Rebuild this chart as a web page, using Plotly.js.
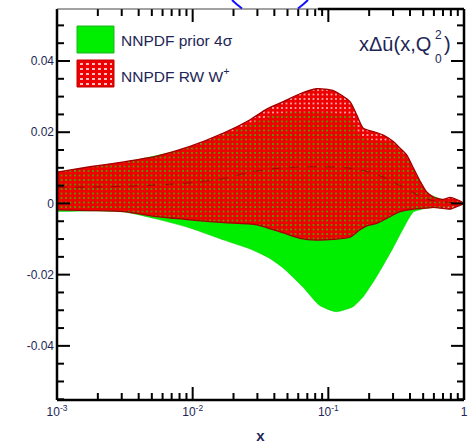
<!DOCTYPE html>
<html><head><meta charset="utf-8">
<script src="https://cdn.plot.ly/plotly-3.0.1.min.js"></script>
<style>html,body{margin:0;padding:0;background:#fff}#chart{width:472px;height:448px}</style>
</head><body><div id="chart"></div>
<script>
// ---- data ----
const priorUpX = [0.001, 0.00312, 0.00955, 0.017, 0.0265, 0.0351, 0.0466, 0.0618, 0.0821, 0.1088, 0.1444, 0.1618, 0.181, 0.2541, 0.3013, 0.3377, 0.378, 0.4229, 0.474, 0.5309, 0.703, 1.0];
const priorUpY = [0.0086, 0.0115, 0.0157, 0.0192, 0.0224, 0.0242, 0.0254, 0.0256, 0.0256, 0.0254, 0.0244, 0.0205, 0.0182, 0.0174, 0.0168, 0.0150, 0.0130, 0.0096, 0.0060, 0.0030, 0.0010, 0];
const priorLoX = [0.001, 0.00175, 0.00312, 0.00546, 0.00955, 0.017, 0.0265, 0.0365, 0.0464, 0.065, 0.0853, 0.1138, 0.152, 0.18, 0.224, 0.30, 0.378, 0.4229, 0.474, 0.5309, 0.75, 1.0];
const priorLoY = [-0.0023, -0.0021, -0.0024, -0.0044, -0.0069, -0.0103, -0.0128, -0.0153, -0.0181, -0.0235, -0.0285, -0.0304, -0.0290, -0.0263, -0.0209, -0.0125, -0.0053, -0.0024, -0.0018, -0.0013, -0.0010, 0];

const rwUpX = [0.001, 0.00175, 0.00312, 0.00546, 0.00955, 0.017, 0.0265, 0.0351, 0.0466, 0.0618, 0.0821, 0.1088, 0.1444, 0.1618, 0.181, 0.2145, 0.2541, 0.3013, 0.3377, 0.378, 0.4229, 0.474, 0.5309, 0.594, 0.703, 0.788, 0.883, 1.0];
const rwUpY = [0.0088, 0.0103, 0.0117, 0.0133, 0.0160, 0.0198, 0.0235, 0.0265, 0.0286, 0.0308, 0.0322, 0.0317, 0.0286, 0.0249, 0.0211, 0.0202, 0.0192, 0.0174, 0.0155, 0.0136, 0.0100, 0.0063, 0.0032, 0.0018, 0.0011, 0.0017, 0.0011, 0];
const rwLoX = [0.001, 0.00175, 0.00312, 0.00546, 0.00955, 0.017, 0.0298, 0.0466, 0.0618, 0.0821, 0.1088, 0.1444, 0.171, 0.1919, 0.2273, 0.269, 0.3377, 0.4229, 0.5309, 0.594, 0.665, 0.788, 0.883, 1.0];
const rwLoY = [-0.0018, -0.0020, -0.0023, -0.0037, -0.0046, -0.0054, -0.0060, -0.0083, -0.0098, -0.0103, -0.0101, -0.0095, -0.0074, -0.0063, -0.0056, -0.0042, -0.0023, -0.0016, -0.0013, -0.0011, -0.0013, -0.0016, -0.0009, 0];

const centralX = [0.001, 0.00312, 0.00955, 0.017, 0.0265, 0.0466, 0.0821, 0.1444, 0.2145, 0.3013, 0.4229, 0.5309, 1.0];
const centralY = [0.0045, 0.0048, 0.0058, 0.0070, 0.0088, 0.0100, 0.0103, 0.0099, 0.0085, 0.0060, 0.0030, 0.0012, 0];

const xTickVals = [0.001, 0.01, 0.1, 1];
const xTickText = ['10<sup>-3</sup>', '10<sup>-2</sup>', '10<sup>-1</sup>', '1'];
const yTickVals = [-0.04, -0.02, 0, 0.02, 0.04];
const yTickText = ['-0.04', '-0.02', '0', '0.02', '0.04'];

const seriesNames = ['NNPDF prior 4σ', 'NNPDF RW W<sup>+</sup>'];
const panelLabel = 'xΔū(x,Q';

// ---- helpers ----
const W = 472, H = 448, ML = 57, MR = 8, MT = 9, MB = 48;
const PW = W - ML - MR, PH = H - MT - MB;
const xRangeLog = [-3, 0];
const yRange = [-0.0552, 0.0546];
const px = v => (v - ML) / PW;            // pixel -> paper x
const py = v => (H - MB - v) / PH;        // pixel -> paper y
function band(ux, uy, lx, ly) {
  return { x: ux.concat(lx.slice(0, -1).reverse()), y: uy.concat(ly.slice(0, -1).reverse()) };
}
const xMinor = [];
for (let d = -3; d < 0; d++) for (let m = 2; m <= 9; m++) xMinor.push(m * Math.pow(10, d));
const yMinor = [];
for (let k = -11; k <= 10; k++) if (k % 4 !== 0) yMinor.push(k * 0.005);

// tick marks drawn as line segments through the axes' own scales
const MAJ = 13, MIN = 7;
const ySpan = yRange[1] - yRange[0];
const xLogSpan = xRangeLog[1] - xRangeLog[0];
const tickX = [], tickY = [];
function addSeg(x0, y0, x1, y1) { tickX.push(x0, x1, null); tickY.push(y0, y1, null); }
function xTicks(vals, len) {
  const dy = len * ySpan / PH;
  vals.forEach(v => { addSeg(v, yRange[0], v, yRange[0] + dy); addSeg(v, yRange[1], v, yRange[1] - dy); });
}
function yTicks(vals, len) {
  const xl = Math.pow(10, xRangeLog[0] + len * xLogSpan / PW);
  const xr = Math.pow(10, xRangeLog[1] - len * xLogSpan / PW);
  vals.forEach(v => { addSeg(Math.pow(10, xRangeLog[0]), v, xl, v); addSeg(Math.pow(10, xRangeLog[1]), v, xr, v); });
}
xTicks(xTickVals, MAJ); xTicks(xMinor, MIN);
yTicks(yTickVals, MAJ); yTicks(yMinor, MIN);

const txtCol = '#1e2656';
const FONT = 'Liberation Sans, Arial, sans-serif';

const pb = band(priorUpX, priorUpY, priorLoX, priorLoY);
const rb = band(rwUpX, rwUpY, rwLoX, rwLoY);

const traces = [
  { x: pb.x, y: pb.y, type: 'scatter', mode: 'lines', fill: 'toself',
    fillcolor: '#00ee00', line: { width: 0.5, color: '#00cc00', shape: 'spline', smoothing: 0.6 },
    name: seriesNames[0], hoverinfo: 'skip' },
  { x: rb.x, y: rb.y, type: 'scatter', mode: 'lines', fill: 'toself',
    fillcolor: 'rgba(0,0,0,0)',
    fillpattern: { shape: '+', fgcolor: '#ee0000', bgcolor: 'rgba(0,0,0,0)', size: 4.5, solidity: 0.88, fillmode: 'replace' },
    line: { width: 1.3, color: '#a00000', shape: 'spline', smoothing: 0.6 },
    name: seriesNames[1], hoverinfo: 'skip' },
  { x: centralX, y: centralY, type: 'scatter', mode: 'lines',
    line: { width: 1, color: 'rgba(110,0,0,0.6)', dash: 'dash', shape: 'spline' },
    hoverinfo: 'skip' },
  { x: tickX, y: tickY, type: 'scatter', mode: 'lines', connectgaps: false,
    line: { width: 2, color: '#000' }, hoverinfo: 'skip' }
];

const shapes = [];
function seg(x0, y0, x1, y1, color, width) {
  shapes.push({ type: 'line', xref: 'paper', yref: 'paper', x0: x0, y0: y0, x1: x1, y1: y1,
    line: { color: color, width: width }, layer: 'above' });
}
// frame
seg(0, 0, 1, 0, '#000', 2.5);
seg(0, 0, 0, 1, '#000', 2.5);
seg(1, 0, 1, 1, '#000', 2.5);
seg(px(318), 1, 1, 1, '#000', 2.5);
seg(0, 1, px(318), 1, '#444', 1);
// legend swatches
shapes.push({ type: 'rect', xref: 'paper', yref: 'paper', x0: px(77), x1: px(114), y0: py(53), y1: py(26),
  fillcolor: '#00ee00', line: { color: '#22b022', width: 1 } });
shapes.push({ type: 'rect', xref: 'paper', yref: 'paper', x0: px(77), x1: px(114), y0: py(87), y1: py(60),
  fillcolor: '#ee0000', line: { color: '#c00000', width: 1 } });
for (let r = 0; r < 5; r++) {
  shapes.push({ type: 'line', xref: 'paper', yref: 'paper', x0: px(80), x1: px(112),
    y0: py(64 + r * 5), y1: py(64 + r * 5), line: { color: '#ffffff', width: 1.5, dash: 'dot' } });
}
// blue arcs of the neighbouring figure
shapes.push({ type: 'path', xref: 'paper', yref: 'paper',
  path: 'M' + px(232) + ',' + py(0) + ' L' + px(236.4) + ',' + py(4) + ' L' + px(242) + ',' + py(8.5),
  line: { color: '#1010ff', width: 2 } });
shapes.push({ type: 'path', xref: 'paper', yref: 'paper',
  path: 'M' + px(308) + ',' + py(0) + ' L' + px(303.6) + ',' + py(4) + ' L' + px(298) + ',' + py(8.5),
  line: { color: '#1010ff', width: 2 } });

const annotations = [
  { xref: 'paper', yref: 'paper', x: px(119), y: py(41), xanchor: 'left', yanchor: 'middle',
    text: seriesNames[0], showarrow: false, font: { family: FONT, size: 15.5, color: txtCol } },
  { xref: 'paper', yref: 'paper', x: px(119), y: py(75), xanchor: 'left', yanchor: 'middle',
    text: seriesNames[1], showarrow: false, font: { family: FONT, size: 15.5, color: txtCol } },
  { xref: 'paper', yref: 'paper', x: px(433), y: py(44), xanchor: 'right', yanchor: 'middle',
    text: panelLabel, showarrow: false, font: { family: FONT, size: 20, color: txtCol } },
  { xref: 'paper', yref: 'paper', x: px(438), y: py(35), xanchor: 'center', yanchor: 'middle',
    text: '2', showarrow: false, font: { family: FONT, size: 12, color: txtCol } },
  { xref: 'paper', yref: 'paper', x: px(438), y: py(59), xanchor: 'center', yanchor: 'middle',
    text: '0', showarrow: false, font: { family: FONT, size: 12, color: txtCol } },
  { xref: 'paper', yref: 'paper', x: px(442), y: py(44), xanchor: 'left', yanchor: 'middle',
    text: ')', showarrow: false, font: { family: FONT, size: 20, color: txtCol } }
];

const layout = {
  width: W, height: H,
  margin: { l: ML, r: MR, t: MT, b: MB, pad: 0 },
  paper_bgcolor: '#ffffff', plot_bgcolor: '#ffffff',
  showlegend: false,
  xaxis: {
    type: 'log', range: xRangeLog, tickmode: 'array', tickvals: xTickVals, ticktext: xTickText,
    ticks: '', showline: false, showgrid: false, zeroline: false, ticklabelstandoff: 3,
    tickfont: { family: FONT, size: 12, color: txtCol },
    title: { text: 'x', font: { family: FONT, size: 15, color: txtCol, weight: 'bold' }, standoff: 12 }
  },
  yaxis: {
    range: yRange, tickmode: 'array', tickvals: yTickVals, ticktext: yTickText,
    ticks: '', showline: false, showgrid: false, zeroline: false, ticklabelstandoff: 2,
    tickfont: { family: FONT, size: 12, color: txtCol }
  },
  shapes: shapes,
  annotations: annotations
};

Plotly.newPlot('chart', traces, layout, { displayModeBar: false, staticPlot: true });
</script></body></html>
